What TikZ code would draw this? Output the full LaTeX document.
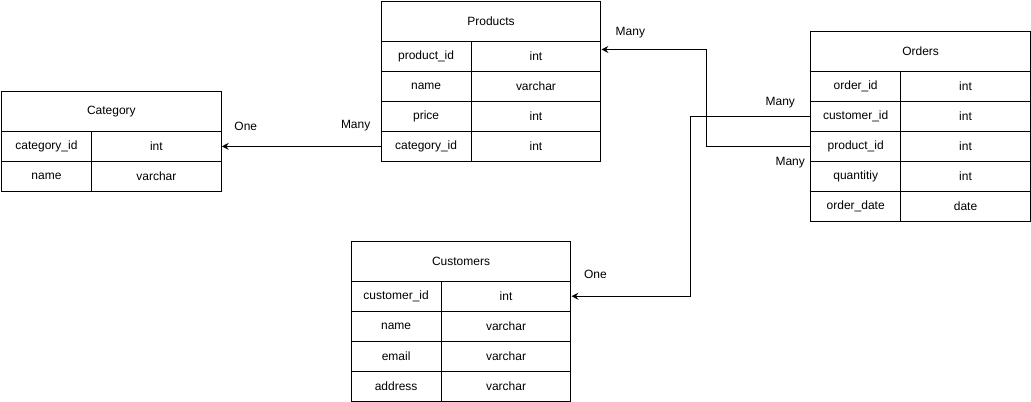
\documentclass[tikz,border=0pt]{standalone}
\usepackage{fontspec}
\setmainfont{Liberation Sans}
\usetikzlibrary{arrows.meta}
\begin{document}
\begin{tikzpicture}[x=1pt,y=-1pt,
  cell/.style={draw, line width=1pt, inner sep=0pt, anchor=north west, minimum height=30pt, font=\fontsize{12}{14}\selectfont},
  keycell/.style={cell, minimum width=90pt},
  valcell/.style={cell, minimum width=130pt},
  head/.style={cell, minimum width=220pt, minimum height=40pt},
  lbl/.style={font=\fontsize{12}{14}\selectfont, inner sep=0pt},
  arr/.style={draw, line width=1pt, -{Stealth[length=7pt,width=7pt,inset=2.5pt]}}]
\useasboundingbox (-1,-1) rectangle (1031,401);
% Products
\node[head] (ph) at (380,0) {Products};
\node[keycell] (p1k) at (380,40) {product\_id};
\node[valcell] (p1v) at (470,40) {int};
\node[keycell] (p2k) at (380,70) {name};
\node[valcell] (p2v) at (470,70) {varchar};
\node[keycell] (p3k) at (380,100) {price};
\node[valcell] (p3v) at (470,100) {int};
\node[keycell] (p4k) at (380,130) {category\_id};
\node[valcell] (p4v) at (470,130) {int};
% Category
\node[head] (ch) at (0,90) {Category};
\node[keycell] (c1k) at (0,130) {category\_id};
\node[valcell] (c1v) at (90,130) {int};
\node[keycell] (c2k) at (0,160) {name};
\node[valcell] (c2v) at (90,160) {varchar};
% Orders
\node[head] (oh) at (810,30) {Orders};
\node[keycell] (o1k) at (810,70) {order\_id};
\node[valcell] (o1v) at (900,70) {int};
\node[keycell] (o2k) at (810,100) {customer\_id};
\node[valcell] (o2v) at (900,100) {int};
\node[keycell] (o3k) at (810,130) {product\_id};
\node[valcell] (o3v) at (900,130) {int};
\node[keycell] (o4k) at (810,160) {quantitiy};
\node[valcell] (o4v) at (900,160) {int};
\node[keycell] (o5k) at (810,190) {order\_date};
\node[valcell] (o5v) at (900,190) {date};
% Customers
\node[head] (uh) at (350,240) {Customers};
\node[keycell] (u1k) at (350,280) {customer\_id};
\node[valcell] (u1v) at (440,280) {int};
\node[keycell] (u2k) at (350,310) {name};
\node[valcell] (u2v) at (440,310) {varchar};
\node[keycell] (u3k) at (350,340) {email};
\node[valcell] (u3v) at (440,340) {varchar};
\node[keycell] (u4k) at (350,370) {address};
\node[valcell] (u4v) at (440,370) {varchar};
% connectors
\draw[arr] (p4k.west) -- (c1v.east);
\draw[arr] (o3k.west) -- ++(-104,0) |- ([yshift=7pt]p1v.east);
\draw[arr] (o2k.west) -- ++(-120,0) |- (u1v.east);
% labels
\node[lbl] (l1) at (245,125) {One};
\node[lbl] (l2) at (355,125) {Many};
\node[lbl] (l3) at (630,32) {Many};
\node[lbl] (l4) at (780,102) {Many};
\node[lbl] (l5) at (790,162) {Many};
\node[lbl] (l6) at (595,274) {One};
\end{tikzpicture}
\end{document}
